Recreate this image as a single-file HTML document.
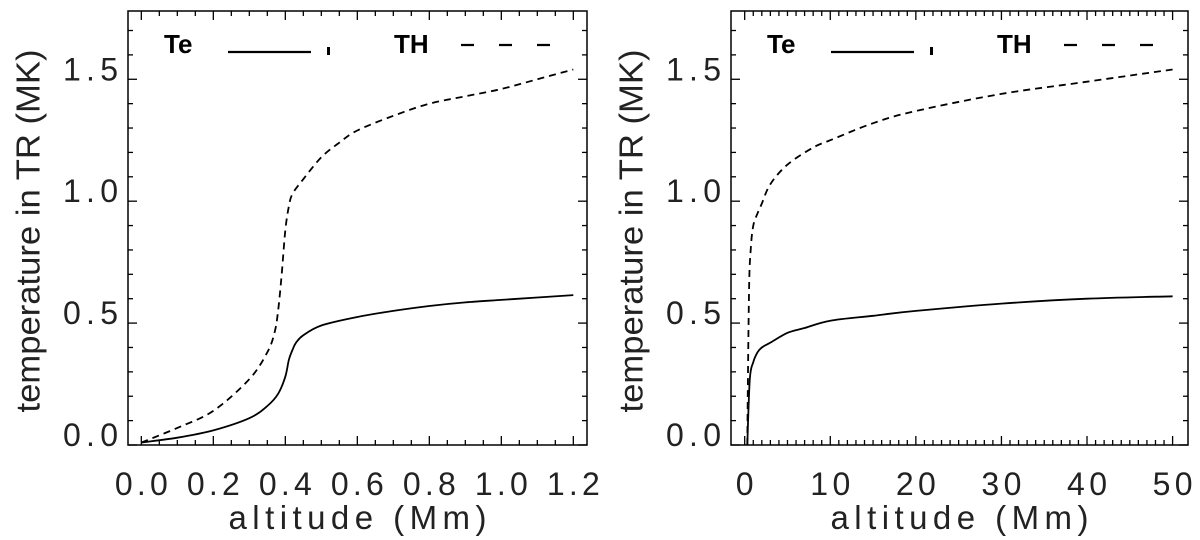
<!DOCTYPE html>
<html><head><meta charset="utf-8"><style>
html,body{margin:0;padding:0;background:#fff;}
svg{display:block;font-family:"Liberation Sans",sans-serif;}
.tick{font-size:32px;fill:#222;}
.title{font-size:33px;fill:#222;}
.leg{font-size:26px;font-weight:bold;fill:#000;}
</style></head><body>
<svg id="chart" width="1200" height="540" viewBox="0 0 1200 540" xmlns="http://www.w3.org/2000/svg"></svg>
<script>
// Left panel data
const leftTeX = [0,0.1,0.2,0.3,0.35,0.38,0.4,0.41,0.42,0.43,0.45,0.5,0.6,0.7,0.8,0.9,1.0,1.1,1.2];
const leftTeY = [0.01,0.03,0.06,0.11,0.16,0.21,0.28,0.35,0.39,0.42,0.45,0.49,0.525,0.55,0.57,0.585,0.595,0.605,0.615];
const leftTHX = [0,0.1,0.2,0.3,0.35,0.37,0.38,0.39,0.4,0.41,0.42,0.45,0.5,0.55,0.6,0.7,0.8,0.9,1.0,1.1,1.2];
const leftTHY = [0.01,0.07,0.14,0.27,0.38,0.46,0.55,0.7,0.88,0.98,1.03,1.09,1.18,1.24,1.29,1.35,1.40,1.43,1.46,1.50,1.54];
// Right panel data
const rightTeX = [0.3,0.6,1,1.5,2,3,5,7,10,15,20,30,40,50];
const rightTeY = [0,0.27,0.34,0.38,0.40,0.42,0.46,0.48,0.51,0.53,0.55,0.58,0.60,0.61];
const rightTHX = [0.3,0.5,0.7,1,1.5,2,3,5,8,10,15,20,30,40,50];
const rightTHY = [0,0.62,0.8,0.9,0.95,0.99,1.07,1.15,1.22,1.25,1.32,1.37,1.44,1.49,1.54];
const leftXTicks = ["0.0","0.2","0.4","0.6","0.8","1.0","1.2"];
const rightXTicks = ["0","10","20","30","40","50"];
const yTicks = ["0.0","0.5","1.0","1.5"];

const NS="http://www.w3.org/2000/svg";
const svg=document.getElementById('chart');
function mk(tag,attrs,parent){const e=document.createElementNS(NS,tag);for(const k in attrs)e.setAttribute(k,attrs[k]);(parent||svg).appendChild(e);return e;}

function smooth(pts){
  let d='M'+pts[0][0].toFixed(1)+','+pts[0][1].toFixed(1);
  for(let i=0;i<pts.length-1;i++){
    const p0=pts[Math.max(0,i-1)],p1=pts[i],p2=pts[i+1],p3=pts[Math.min(pts.length-1,i+2)];
    const c1=[p1[0]+(p2[0]-p0[0])/6,p1[1]+(p2[1]-p0[1])/6];
    const c2=[p2[0]-(p3[0]-p1[0])/6,p2[1]-(p3[1]-p1[1])/6];
    d+=`C${c1[0].toFixed(1)},${c1[1].toFixed(1)} ${c2[0].toFixed(1)},${c2[1].toFixed(1)} ${p2[0].toFixed(1)},${p2[1].toFixed(1)}`;
  }
  return d;
}

function panel(p){
  const g=mk('g',{});
  
  
  const top=11,bot=445,ymin=0,ymax=1.78;
  const sx=v=>p.left+(v-p.xmin)/(p.xmax-p.xmin)*(p.right-p.left);
  const sy=v=>bot-(v-ymin)/(ymax-ymin)*(bot-top);
  const fr=mk('rect',{x:p.left,y:top,width:p.right-p.left,height:bot-top,fill:'none',stroke:'#000','stroke-width':1.5},g);
  
  
  for(let i=0;i<=Math.round((p.xticks.length-1)*p.xminorN);i++){
    const v=i*p.xstep/p.xminorN; const x=sx(v); const maj=i%p.xminorN===0; const L=maj?9:5;
    mk('line',{x1:x,x2:x,y1:bot,y2:bot-L,stroke:'#000','stroke-width':1.3},g);
    mk('line',{x1:x,x2:x,y1:top,y2:top+L,stroke:'#000','stroke-width':1.3},g);
  }
  p.xticks.forEach((t,i)=>{
    const tl={1:18,2:40,3:53}[t.length];
    const tx=mk('text',{x:sx(i*p.xstep),y:495,'text-anchor':'middle',class:'tick',textLength:tl,lengthAdjust:'spacing'},g);
    tx.textContent=t;
    
    
  });
  for(let i=0;i<=17;i++){
    const y=sy(i*0.1); const L=i%5===0?9:5;
    mk('line',{x1:p.left,x2:p.left+L,y1:y,y2:y,stroke:'#000','stroke-width':1.3},g);
    mk('line',{x1:p.right,x2:p.right-L,y1:y,y2:y,stroke:'#000','stroke-width':1.3},g);
  }
  yTicks.forEach((t,i)=>{
    const ty=mk('text',{x:p.left-10,y:sy(i*0.5)+1,'text-anchor':'end',class:'tick',textLength:55,lengthAdjust:'spacing'},g);
    ty.textContent=t;
    
    
  });
  const xt=mk('text',{x:(p.left+p.right)/2,y:529,'text-anchor':'middle',class:'title',textLength:258,lengthAdjust:'spacing'},g);
  xt.textContent='altitude (Mm)';
  
  
  const cx=p.left-100,cy=231;
  const yt=mk('text',{x:cx,y:cy,'text-anchor':'middle','dominant-baseline':'central',class:'title',transform:`rotate(-90 ${cx} ${cy})`,textLength:363,lengthAdjust:'spacingAndGlyphs'},g);
  yt.textContent='temperature in TR (MK)';
  
  
  const pts=(X,Y)=>X.map((x,i)=>[sx(x),sy(Y[i])]);
  const te=mk('path',{d:smooth(pts(p.teX,p.teY)),fill:'none',stroke:'#000','stroke-width':1.8,'stroke-linejoin':'round'},g);
  
  
  const th=mk('path',{d:smooth(pts(p.thX,p.thY)),fill:'none',stroke:'#000','stroke-width':1.8,'stroke-dasharray':'7 5'},g);
  
  
  const lg=mk('g',{},g);
  
  
  const o=p.left;
  const l1=mk('text',{x:o+36,y:53,class:'leg'},lg); l1.textContent='Te';
  
  
  mk('line',{x1:o+100,x2:o+183,y1:52,y2:52,stroke:'#000','stroke-width':2.2},lg);
  mk('rect',{x:o+199,y:47,width:3,height:8,fill:'#000'},lg);
  const l2=mk('text',{x:o+266,y:53,class:'leg'},lg); l2.textContent='TH';
  
  
  mk('line',{x1:o+333,x2:o+428,y1:45,y2:45,stroke:'#000','stroke-width':2.2,'stroke-dasharray':'13 25'},lg);
}
panel({name:'left-panel',left:128,right:587,xmin:-0.037,xmax:1.238,xstep:0.2,xminorN:4,xticks:leftXTicks,teX:leftTeX,teY:leftTeY,thX:leftTHX,thY:leftTHY});
panel({name:'right-panel',left:731,right:1188,xmin:-1.6,xmax:51.8,xstep:10,xminorN:10,xticks:rightXTicks,teX:rightTeX,teY:rightTeY,thX:rightTHX,thY:rightTHY});
</script>
</body></html>
